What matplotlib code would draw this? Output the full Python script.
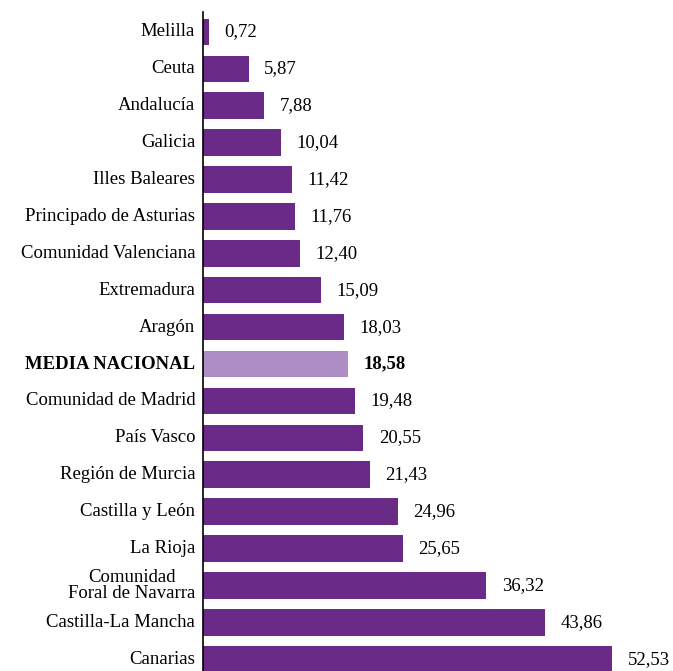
import matplotlib.pyplot as plt

# Regiones y valores (orden de arriba a abajo)
regiones = ['Melilla', 'Ceuta', 'Andalucía', 'Galicia', 'Illes Baleares',
            'Principado de Asturias', 'Comunidad Valenciana', 'Extremadura',
            'Aragón', 'MEDIA NACIONAL', 'Comunidad de Madrid', 'País Vasco',
            'Región de Murcia', 'Castilla y León', 'La Rioja',
            'Comunidad\nForal de Navarra', 'Castilla-La Mancha', 'Canarias']
valores = [0.72, 5.87, 7.88, 10.04, 11.42, 11.76, 12.40, 15.09, 18.03,
           18.58, 19.48, 20.55, 21.43, 24.96, 25.65, 36.32, 43.86, 52.53]
media = 'MEDIA NACIONAL'

morado = '#6a2b88'
morado_claro = '#ad8dc4'

plt.rcParams['font.family'] = ['Liberation Serif', 'DejaVu Serif']

fig = plt.figure(figsize=(6.73, 6.71), dpi=100)
ax = fig.add_axes([203 / 673, 0, 470 / 673, 659 / 671])

pos = list(range(len(regiones)))
colores = [morado_claro if r == media else morado for r in regiones]
ax.barh(pos, valores, height=0.72, color=colores)

for p, v, r in zip(pos, valores, regiones):
    peso = 'bold' if r == media else 'normal'
    ax.text(v + 2.0, p, f'{v:.2f}'.replace('.', ','), va='center', ha='left',
            fontsize=13.5, fontweight=peso)
    ax.text(-1.0, p, r, va='center', ha='right', fontsize=13.5,
            fontweight=peso, linespacing=0.95, multialignment='center')

ax.set_xlim(0, 60.3)
ax.set_ylim(17.32, -0.54)
for lado in ['top', 'right', 'bottom']:
    ax.spines[lado].set_visible(False)
ax.spines['left'].set_linewidth(1.2)
ax.set_xticks([])
ax.set_yticks([])

fig.savefig('out.png', dpi=100)
